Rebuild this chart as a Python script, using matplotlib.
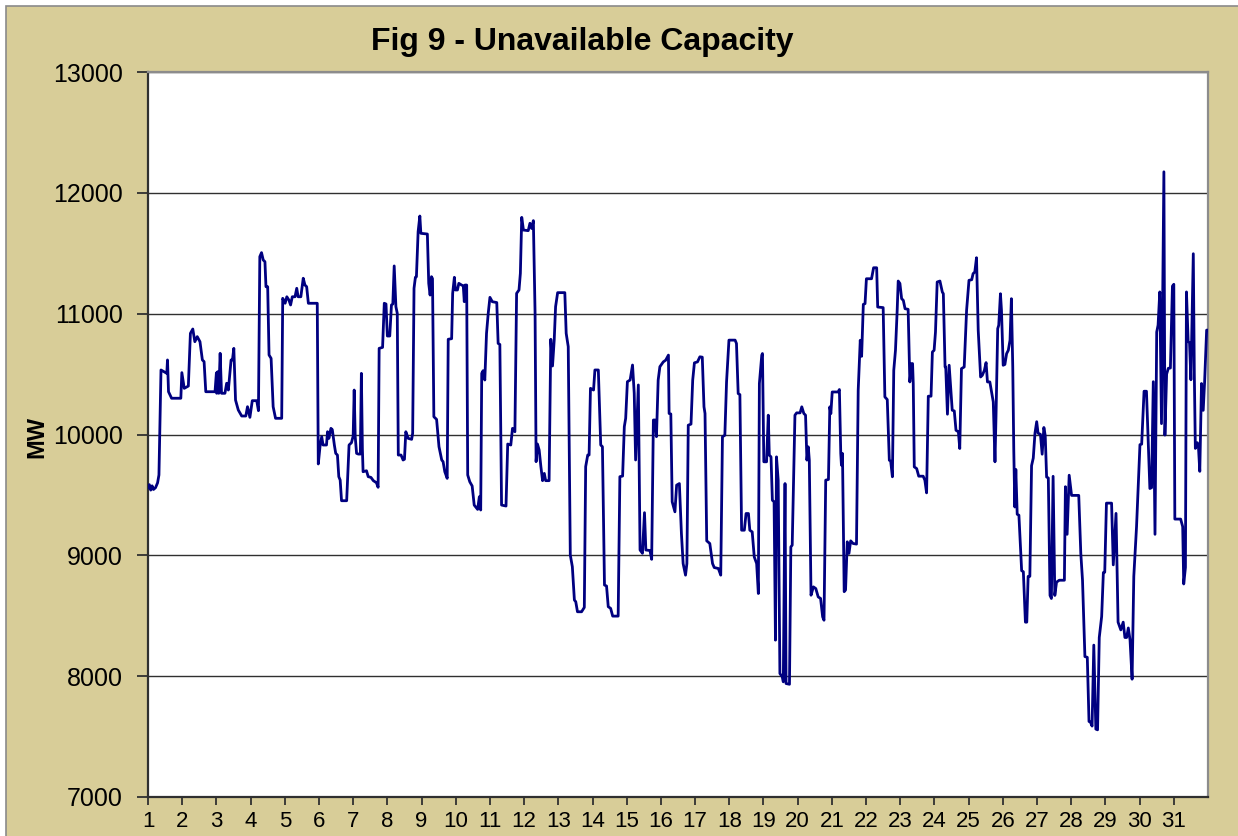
import matplotlib
matplotlib.use("Agg")
import matplotlib.pyplot as plt
from matplotlib.patches import Rectangle

plt.rcParams['font.family'] = ['Liberation Sans', 'DejaVu Sans']

# data: day of month (fractional) and unavailable MW
days = [
    1.00, 1.04, 1.08, 1.12, 1.16, 1.22, 1.28, 1.32, 1.38, 1.55, 1.57, 1.60, 1.69, 1.96,
    1.99, 2.06, 2.18, 2.24, 2.31, 2.37, 2.44, 2.52, 2.59, 2.64, 2.69, 2.96, 3.00, 3.01,
    3.04, 3.07, 3.11, 3.15, 3.25, 3.30, 3.35, 3.43, 3.47, 3.51, 3.56, 3.64, 3.74, 3.86,
    3.91, 3.98, 4.05, 4.18, 4.23, 4.27, 4.32, 4.37, 4.42, 4.45, 4.50, 4.54, 4.60, 4.66,
    4.73, 4.91, 4.94, 5.01, 5.06, 5.12, 5.17, 5.22, 5.30, 5.35, 5.39, 5.47, 5.54, 5.59,
    5.64, 5.69, 5.95, 5.98, 6.03, 6.08, 6.12, 6.22, 6.25, 6.29, 6.35, 6.39, 6.45, 6.49,
    6.54, 6.58, 6.62, 6.66, 6.81, 6.88, 6.95, 7.00, 7.03, 7.06, 7.10, 7.15, 7.21, 7.24,
    7.27, 7.29, 7.39, 7.44, 7.52, 7.59, 7.68, 7.73, 7.76, 7.86, 7.91, 7.96, 8.00, 8.07,
    8.12, 8.16, 8.20, 8.25, 8.29, 8.32, 8.40, 8.46, 8.50, 8.54, 8.61, 8.71, 8.74, 8.78,
    8.82, 8.85, 8.90, 8.95, 8.98, 9.17, 9.21, 9.25, 9.29, 9.32, 9.36, 9.44, 9.51, 9.59,
    9.63, 9.68, 9.75, 9.78, 9.88, 9.91, 9.96, 9.99, 10.05, 10.09, 10.17, 10.22, 10.25,
    10.27, 10.32, 10.35, 10.41, 10.48, 10.54, 10.64, 10.69, 10.73, 10.76, 10.80, 10.85,
    10.90, 10.95, 11.00, 11.07, 11.20, 11.24, 11.29, 11.34, 11.47, 11.52, 11.61, 11.66,
    11.73, 11.78, 11.85, 11.89, 11.93, 11.98, 12.12, 12.17, 12.22, 12.27, 12.32, 12.35,
    12.39, 12.44, 12.49, 12.54, 12.59, 12.63, 12.73, 12.78, 12.83, 12.88, 12.92, 12.98,
    13.19, 13.23, 13.29, 13.35, 13.41, 13.47, 13.51, 13.56, 13.68, 13.76, 13.80, 13.86,
    13.90, 13.94, 14.03, 14.07, 14.17, 14.24, 14.29, 14.35, 14.41, 14.46, 14.53, 14.59,
    14.75, 14.80, 14.88, 14.93, 14.97, 15.02, 15.10, 15.17, 15.22, 15.26, 15.34, 15.39,
    15.46, 15.52, 15.56, 15.68, 15.73, 15.78, 15.83, 15.87, 15.92, 15.97, 16.07, 16.14,
    16.22, 16.24, 16.29, 16.33, 16.41, 16.46, 16.54, 16.60, 16.65, 16.72, 16.76, 16.80,
    16.88, 16.93, 16.98, 17.07, 17.14, 17.21, 17.26, 17.29, 17.34, 17.43, 17.51, 17.56,
    17.68, 17.75, 17.80, 17.87, 17.92, 17.99, 18.17, 18.21, 18.26, 18.31, 18.36, 18.44,
    18.49, 18.56, 18.60, 18.67, 18.73, 18.80, 18.85, 18.88, 18.95, 18.97, 19.01, 19.09,
    19.14, 19.17, 19.22, 19.26, 19.31, 19.35, 19.38, 19.43, 19.48, 19.55, 19.58, 19.63,
    19.66, 19.76, 19.80, 19.84, 19.92, 19.97, 20.07, 20.12, 20.18, 20.23, 20.27, 20.31,
    20.34, 20.39, 20.46, 20.53, 20.60, 20.67, 20.73, 20.77, 20.82, 20.90, 20.94, 20.97,
    21.01, 21.18, 21.22, 21.26, 21.28, 21.31, 21.36, 21.40, 21.45, 21.50, 21.55, 21.62,
    21.72, 21.77, 21.83, 21.87, 21.92, 21.97, 22.01, 22.16, 22.22, 22.31, 22.34, 22.50,
    22.55, 22.62, 22.68, 22.72, 22.77, 22.81, 22.86, 22.91, 22.94, 22.99, 23.04, 23.09,
    23.14, 23.23, 23.28, 23.33, 23.36, 23.38, 23.41, 23.48, 23.54, 23.67, 23.72, 23.77,
    23.82, 23.90, 23.94, 23.99, 24.03, 24.08, 24.16, 24.23, 24.26, 24.31, 24.33, 24.38,
    24.43, 24.48, 24.52, 24.58, 24.63, 24.70, 24.74, 24.79, 24.87, 24.94, 25.01, 25.09,
    25.13, 25.18, 25.23, 25.28, 25.35, 25.40, 25.46, 25.51, 25.55, 25.62, 25.72, 25.77,
    25.80, 25.85, 25.88, 25.93, 25.96, 26.01, 26.06, 26.11, 26.16, 26.21, 26.25, 26.29,
    26.32, 26.35, 26.38, 26.42, 26.47, 26.55, 26.60, 26.66, 26.70, 26.74, 26.79, 26.84,
    26.89, 26.94, 26.99, 27.03, 27.10, 27.15, 27.20, 27.24, 27.28, 27.33, 27.38, 27.42,
    27.47, 27.52, 27.57, 27.65, 27.80, 27.83, 27.88, 27.94, 28.01, 28.22, 28.28, 28.33,
    28.40, 28.47, 28.52, 28.56, 28.61, 28.66, 28.72, 28.77, 28.82, 28.89, 28.94, 28.98,
    29.03, 29.18, 29.23, 29.31, 29.37, 29.45, 29.52, 29.57, 29.62, 29.67, 29.72, 29.78,
    29.83, 29.91, 30.01, 30.06, 30.13, 30.20, 30.30, 30.35, 30.40, 30.45, 30.50, 30.54,
    30.59, 30.64, 30.71, 30.74, 30.79, 30.84, 30.90, 30.96, 31.00, 31.03, 31.20, 31.26,
    31.29, 31.34, 31.37, 31.42, 31.46, 31.50, 31.57, 31.60, 31.63, 31.69, 31.72, 31.76,
    31.81, 31.86, 31.90, 31.96, 32.00,
]

mw = [
    9560, 9585, 9540, 9575, 9545, 9560, 9600, 9665, 10534, 10506, 10617, 10354, 10300, 10300,
    10512, 10382, 10401, 10837, 10873, 10768, 10810, 10768, 10617, 10603, 10354, 10354, 10510, 10341,
    10520, 10341, 10672, 10341, 10341, 10424, 10368, 10617, 10617, 10713, 10285, 10203, 10153, 10153,
    10230, 10142, 10280, 10280, 10197, 11472, 11505, 11444, 11430, 11223, 11223, 10658, 10630, 10230,
    10134, 10134, 11127, 11086, 11140, 11113, 11072, 11140, 11140, 11210, 11140, 11140, 11293, 11237,
    11223, 11086, 11086, 9756, 9899, 9982, 9913, 9913, 10023, 9968, 10051, 10040, 9913, 9844,
    9830, 9651, 9623, 9452, 9452, 9913, 9932, 9987, 10368, 9982, 9844, 9838, 9838, 10506,
    9880, 9692, 9700, 9651, 9645, 9618, 9601, 9563, 10713, 10721, 11086, 11080, 10815, 10815,
    11072, 11080, 11395, 11058, 11003, 9830, 9830, 9789, 9795, 10023, 9968, 9960, 10010, 11210,
    11301, 11306, 11679, 11808, 11665, 11659, 11251, 11154, 11306, 11290, 10147, 10125, 9899, 9789,
    9775, 9692, 9637, 10788, 10793, 11168, 11301, 11196, 11196, 11251, 11237, 11230, 11099,
    11237, 11237, 9665, 9609, 9574, 9416, 9380, 9485, 9375, 10506, 10528, 10451,
    10837, 11003, 11135, 11099, 11092, 10754, 10745, 9416, 9408, 9921, 9913, 10051,
    10023, 11168, 11196, 11334, 11797, 11692, 11687, 11748, 11705, 11770, 11003, 9775,
    9921, 9871, 9734, 9618, 9678, 9618, 9618, 10788, 10567, 10782, 11058, 11174,
    11174, 10837, 10727, 9003, 8906, 8630, 8616, 8533, 8533, 8569, 9734, 9830,
    9830, 10382, 10368, 10534, 10534, 9913, 9899, 8754, 8746, 8575, 8561, 8497,
    8497, 9651, 9656, 10065, 10134, 10437, 10451, 10575, 10341, 9789, 10410, 9044,
    9017, 9353, 9044, 9040, 8967, 10120, 10120, 9982, 10450, 10561, 10601, 10615,
    10657, 10174, 10170, 9443, 9360, 9581, 9594, 9181, 8932, 8836, 8932, 10077,
    10086, 10450, 10593, 10601, 10643, 10640, 10229, 10174, 9120, 9098, 8932, 8899,
    8891, 8836, 9981, 9994, 10436, 10781, 10781, 10753, 10339, 10330, 9208, 9208,
    9346, 9346, 9208, 9194, 8987, 8932, 8684, 10422, 10657, 10670, 9774, 9774,
    10160, 9829, 9815, 9456, 9443, 8298, 9815, 9622, 8022, 7994, 7953, 9594,
    7939, 7933, 9070, 9084, 10160, 10179, 10179, 10229, 10174, 10160, 9788, 9898,
    9788, 8670, 8739, 8725, 8656, 8643, 8491, 8463, 9622, 9628, 10229, 10173,
    10352, 10352, 10372, 9843, 9746, 9843, 8699, 8713, 9112, 9016, 9120, 9098,
    9093, 10366, 10780, 10647, 11077, 11083, 11289, 11289, 11380, 11380, 11055, 11050,
    10311, 10289, 9787, 9780, 9650, 10531, 10697, 11028, 11270, 11250, 11124, 11110,
    11041, 11036, 10435, 10587, 10587, 10421, 9732, 9718, 9655, 9655, 9622, 9517,
    10317, 10317, 10683, 10697, 10848, 11262, 11270, 11179, 11165, 10559, 10559, 10168,
    10573, 10366, 10201, 10195, 10035, 10022, 9884, 10545, 10559, 11028, 11276, 11281,
    11331, 11345, 11463, 10862, 10476, 10490, 10531, 10595, 10435, 10435, 10270, 9774,
    10146, 10876, 10904, 11165, 11028, 10573, 10580, 10669, 10697, 10780, 11124, 10560,
    9870, 9400, 9711, 9340, 9332, 8873, 8864, 8447, 8447, 8826, 8826, 9742,
    9805, 10011, 10106, 10011, 10001, 9837, 10058, 9990, 9648, 9640, 8668, 8643,
    9654, 8668, 8778, 8794, 8794, 9568, 9174, 9663, 9496, 9496, 9016, 8794,
    8162, 8156, 7625, 7620, 7587, 8257, 7562, 7556, 8320, 8494, 8858, 8860,
    9432, 9432, 8921, 9347, 8447, 8383, 8447, 8320, 8320, 8399, 8300, 7975,
    8826, 9237, 9916, 9920, 10358, 10358, 9553, 9560, 10437, 9174, 10848, 10905,
    11180, 10090, 12174, 9995, 10500, 10548, 10550, 11228, 11243, 9300, 9300, 9237,
    8763, 8900, 11180, 10769, 10760, 10453, 11496, 10500, 9885, 9932, 9900, 9695,
    10422, 10200, 10430, 10864, 10864,
]

x_ticks = list(range(1, 32))
y_ticks = [7000, 8000, 9000, 10000, 11000, 12000, 13000]

tan = '#D8CD98'
W, H = 1238, 836

fig = plt.figure(figsize=(W / 100, H / 100), dpi=100, facecolor='white')

# tan chart area with thin grey frame, kept behind the axes
fig.patches.append(Rectangle((6 / W, -0.1), 1.2, (H - 6) / H + 0.1, transform=fig.transFigure,
                             facecolor=tan, edgecolor='#8a8a8a', linewidth=1.2, zorder=-10))

ax = fig.add_axes([148 / W, 1 - 797 / H, (1208 - 148) / W, (797 - 72) / H])
ax.set_zorder(1)
ax.set_facecolor('white')

ax.plot(days, mw, color='#000080', linewidth=2.0, zorder=3)

ax.set_xlim(1, 32)
ax.set_ylim(7000, 13000)
ax.set_xticks(x_ticks)
ax.set_xticklabels([str(t) for t in x_ticks])
ax.set_yticks(y_ticks)
ax.set_yticklabels([str(t) for t in y_ticks])

ax.yaxis.grid(True, color='#303030', linewidth=1.0)
ax.set_axisbelow(True)

for side in ['top', 'right']:
    ax.spines[side].set_color('#8c8c8c')
    ax.spines[side].set_linewidth(1.6)
for side in ['left', 'bottom']:
    ax.spines[side].set_color('#303030')
    ax.spines[side].set_linewidth(1.6)

ax.tick_params(axis='y', direction='out', length=8, width=1.3, color='#303030',
               labelsize=18, pad=10)
ax.tick_params(axis='x', direction='out', length=6, width=1.3, color='#303030',
               labelsize=16, pad=4)

fig.text(582 / W, 1 - 42 / H, 'Fig 9 - Unavailable Capacity', ha='center', va='center',
         fontsize=23, fontweight='bold', zorder=2)
fig.text(37 / W, 1 - 437 / H, 'MW', ha='center', va='center', rotation=90,
         fontsize=17, fontweight='bold', zorder=2)

fig.savefig('out.png', dpi=100, facecolor=fig.get_facecolor())
